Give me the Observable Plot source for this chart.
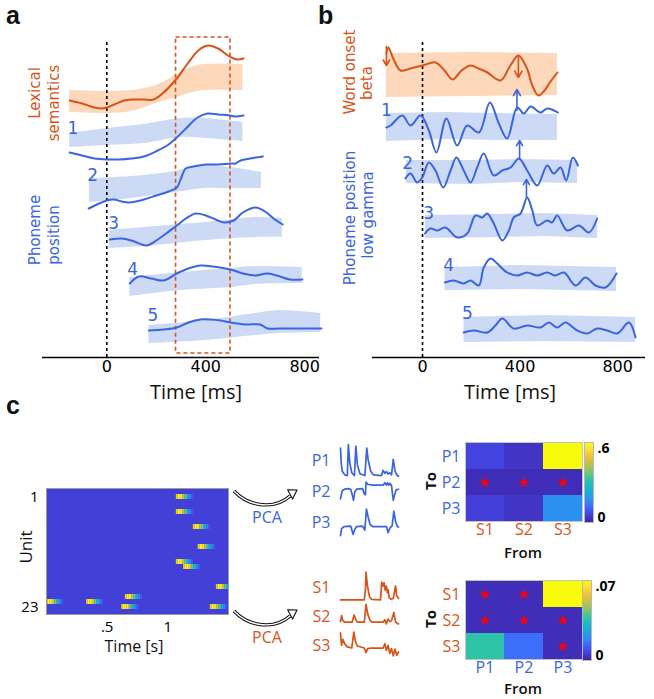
<!DOCTYPE html>
<html><head><meta charset="utf-8">
<script src="https://cdn.jsdelivr.net/npm/d3@7"></script>
<script src="https://cdn.jsdelivr.net/npm/@observablehq/plot@0.6"></script>
<style>
html,body{margin:0;padding:0;background:#fff;}
#fig{position:relative;width:654px;height:699px;overflow:hidden;background:#fff;}
.p{position:absolute;}
.p svg{overflow:visible;display:block;}
#overlay{position:absolute;left:0;top:0;pointer-events:none;}
</style></head><body>
<div id="fig"></div>
<script>
// ---------- colours ----------
const ORANGE = "#d95319";
const BLUE = "#3a64e0";
const ORANGE_BAND = "#fdd8bb";
const BLUE_BAND = "#cddaf6";
const PARULA = ["#3e26a8","#4541dd","#3f66fb","#2c8ef3","#1ca9de","#18bcc0","#38c69a","#82c96b","#c9bf48","#f5be38","#fbe02c","#f9fb0e"];
const HEAT_BG = "#4340d8";

// ---------- panel a data (time ms, amplitude a.u.) ----------
const timeTicks = [0, 400, 800];
const aLexLine = [[-150,257],[-100,254],[-50,250],[-20,249],[0,250],[30,253],[70,257],[100,258],[150,258],[190,258],[230,265],[283,279],[330,295],[370,307],[408,312],[450,309],[490,302],[513,299],[530,298],[553,299]];
const aLexBand = [[-150,245,267],[0,244,266],[100,246,267],[200,254,272],[280,260,282],[350,265,291],[400,267,293],[550,267,293]];
const aPh1Line = [[-150,205],[-100,202],[-50,199],[0,198],[50,198],[100,199],[150,201],[206,207],[250,213],[283,220],[320,229],[367,240],[408,244],[450,243],[497,242],[520,241],[553,242]];
const aPh1Band = [[-150,210,224],[0,212,229],[150,214,233],[300,220,239],[400,219,239],[550,216,235]];
const aPh2Line = [[-73,149],[-40,153],[0,157],[30,158],[60,156],[90,155],[150,158],[200,162],[250,166],[283,170],[300,179],[319,189],[350,191],[400,193],[450,193],[500,194],[520,194],[541,197],[580,199],[631,201]];
const aPh2Band = [[-70,155,179],[100,159,181],[250,164,185],[400,169,192],[500,169,190],[625,169,185]];
const aPh3Line = [[12,118],[60,119],[100,117],[161,112],[200,117],[240,124],[283,132],[320,139],[360,144],[400,142],[440,138],[473,135],[513,137],[550,145],[602,150],[640,146],[680,138],[711,133]];
const aPh3Band = [[10,109,127],[200,112,131],[400,117,135],[600,120,140],[710,120,139]];
const aPh4Line = [[93,74],[130,81],[180,79],[230,77],[283,84],[330,89],[380,92],[430,91],[500,88],[550,84],[600,82],[650,84],[700,81],[740,78],[791,78]];
const aPh4Band = [[93,61,80],[300,67,85],[500,70,89],[600,73,91],[790,74,90]];
const aPh5Line = [[170,27],[230,28],[283,30],[330,35],[380,38],[420,38],[460,37],[500,35],[560,33],[620,33],[650,29],[700,29],[800,29],[868,29]];
const aPh5Band = [[170,14,32],[400,17,37],[600,22,44],[700,24,47],[865,25,44]];
const aLabels = [{t:-137,v:229,label:"1"},{t:-57,v:182,label:"2"},{t:28,v:134,label:"3"},{t:105,v:88,label:"4"},{t:186,v:42,label:"5"}];
const aZeroLine = [{t:0, top:317}];
const aWindow = [{start:280, end:500, bottom:4, top:320}];

// ---------- panel b data ----------
const bWordLine = [[-148,304],[-140,310],[-120,299],[-90,287],[-50,289],[0,292],[53,295],[90,287],[123,278],[160,287],[197,292],[230,289],[266,285],[320,277],[360,292],[393,302],[428,289],[450,272],[475,262],[500,267],[522,275],[553,285]];
const bWordBand = [[-148,260,304],[200,261,305],[553,262,304]];
const bPh1Line = [[-148,230],[-131,232],[-83,242],[-49,232],[-8,242],[26,227],[57,205],[98,239],[142,212],[183,232],[231,225],[276,255],[313,234],[347,219],[388,250],[415,244],[443,251],[484,245],[511,249],[555,245]];
const bPh1Band = [[-148,216,244],[100,218,245],[300,217,244],[553,217,243]];
const bPh2Line = [[-70,179],[-49,184],[-22,175],[-1,180],[26,195],[53,187],[85,170],[115,187],[139,200],[169,187],[197,175],[224,190],[251,204],[292,182],[327,187],[361,190],[395,199],[429,187],[470,172],[511,192],[538,184],[566,190],[589,177],[616,200],[637,192]];
const bPh2Band = [[-66,174,197],[200,173,197],[400,175,198],[635,174,197]];
const bPh3Line = [[10,124],[33,129],[60,127],[94,130],[142,120],[183,124],[217,142],[245,140],[265,144],[292,134],[327,117],[354,127],[374,140],[402,144],[429,160],[450,147],[470,132],[511,137],[531,135],[552,142],[593,127],[641,132],[682,125],[716,139]];
const bPh3Band = [[12,119,142],[300,120,143],[500,121,144],[717,119,142]];
const bPh4Line = [[92,75],[128,77],[169,74],[197,77],[231,72],[251,90],[279,99],[306,94],[347,85],[388,82],[429,85],[470,82],[511,85],[545,82],[580,85],[627,72],[668,80],[709,72],[750,70],[795,84]];
const bPh4Band = [[92,67,90],[400,68,92],[795,66,90]];
const bPh5Line = [[169,25],[210,27],[265,25],[299,32],[327,39],[374,29],[429,32],[484,30],[518,35],[552,30],[586,35],[634,27],[675,24],[716,29],[757,27],[798,24],[846,35],[873,20]];
const bPh5Band = [[170,15,40],[500,16,42],[873,15,40]];
const bLabels = [{t:-148,v:247,label:"1"},{t:-61,v:194,label:"2"},{t:25,v:144,label:"3"},{t:107,v:92,label:"4"},{t:184,v:44,label:"5"}];
const bArrows = [{t:-148,from:311,to:292,kind:"word"},{t:393,from:302,to:280,kind:"word"},{t:387,from:247,to:268,kind:"phon"},{t:398,from:199,to:217,kind:"phon"},{t:426,from:160,to:178,kind:"phon"}];
const bZeroLine = [{t:0, top:317}];

// ---------- panel c data ----------
const unitIds = d3.range(1, 24);
const unitTicks = [1, 23];
const heatTimeTicks = [0.5, 1];
const unitEvents = [{unit:1,t:1.07},{unit:4,t:1.07},{unit:7,t:1.21},{unit:11,t:1.25},{unit:14,t:1.07},{unit:15,t:1.13},{unit:19,t:1.40},{unit:21,t:0.65},{unit:22,t:0.0},{unit:22,t:0.33},{unit:23,t:0.62},{unit:23,t:1.35}];
const blobProfile = [0.82, 1, 1, 0.9, 0.74, 0.6, 0.47, 0.35, 0.25, 0.16];
const blobStep = 0.014;

const pComponents = ["P1","P2","P3"];
const sComponents = ["S1","S2","S3"];
const spP1 = [[0,0.92],[0.012,0.44],[0.03,0.17],[0.076,0.05],[0.118,0.03],[0.135,1.03],[0.16,0.44],[0.194,0.12],[0.24,0.03],[0.265,0.98],[0.29,0.39],[0.335,0.09],[0.42,0.03],[0.453,0.92],[0.476,0.55],[0.52,0.17],[0.57,0.05],[0.706,0.03],[0.735,0.2],[0.765,0.1],[0.794,0.16],[0.82,0.08],[0.853,0.12],[0.88,0.05],[0.91,0.55],[0.94,0.17],[0.97,0.05],[1,0.01]];
const spP2 = [[0,0.28],[0.03,0.54],[0.07,0.59],[0.135,0.61],[0.176,0.59],[0.206,0.39],[0.224,0.23],[0.247,0.51],[0.276,0.59],[0.38,0.61],[0.41,0.44],[0.43,0.41],[0.44,0.82],[0.47,0.75],[0.56,0.72],[0.735,0.72],[0.765,0.8],[0.794,0.72],[0.81,0.8],[0.835,0.72],[0.853,0.78],[0.88,0.7],[0.91,0.23],[0.93,0.39],[0.96,0.57],[1,0.59]];
const spP3 = [[0,0.09],[0.018,0.32],[0.06,0.38],[0.176,0.4],[0.218,0.13],[0.247,0.3],[0.276,0.38],[0.38,0.4],[0.418,0.27],[0.435,0.65],[0.447,0.95],[0.476,0.7],[0.51,0.45],[0.56,0.38],[0.794,0.38],[0.82,0.19],[0.853,0.34],[0.89,0.41],[0.92,0.88],[0.95,0.54],[0.98,0.39],[1,0.37]];
const spS1 = [[0,0.09],[0.41,0.09],[0.43,0.45],[0.44,1.05],[0.465,0.57],[0.5,0.2],[0.535,0.11],[0.69,0.09],[0.71,0.7],[0.735,0.57],[0.75,0.68],[0.77,0.43],[0.79,0.57],[0.806,0.34],[0.82,0.45],[0.84,0.17],[0.87,0.11],[0.91,0.14],[0.95,0.57],[0.97,0.23],[1,0.14]];
const spS2 = [[0,0.34],[0.018,0.55],[0.04,0.375],[0.076,0.32],[0.2,0.32],[0.235,0.57],[0.265,0.41],[0.29,0.32],[0.41,0.32],[0.44,0.94],[0.47,0.6],[0.51,0.375],[0.55,0.32],[0.735,0.32],[0.765,0.41],[0.79,0.26],[0.82,0.43],[0.85,0.34],[0.88,0.375],[0.92,0.66],[0.95,0.32],[1,0.26]];
const spS3 = [[0,0.95],[0.018,0.52],[0.04,0.73],[0.07,0.58],[0.118,0.47],[0.194,0.43],[0.23,0.98],[0.253,0.69],[0.29,0.5],[0.41,0.43],[0.44,0.27],[0.47,0.41],[0.53,0.43],[0.735,0.43],[0.765,0.58],[0.79,0.35],[0.82,0.52],[0.85,0.24],[0.88,0.41],[0.91,0.16],[0.94,0.39],[0.97,0.18],[1,0.3]];

// matrices: rows = "To", columns = "From"
const topValues = [[0.06,0.03,0.6],[0.015,0.015,0.015],[0.05,0.03,0.17]];
const topStars = [["P2","S1"],["P2","S2"],["P2","S3"]];
const topColorTicks = [{v:0.6,label:".6"},{v:0,label:"0"}];
const botValues = [[0.002,0.002,0.07],[0.002,0.002,0.002],[0.036,0.014,0.002]];
const botStars = [["S1","P1"],["S1","P2"],["S2","P1"],["S2","P2"],["S2","P3"],["S3","P3"]];
const botColorTicks = [{v:0.07,label:".07"},{v:0,label:"0"}];

// ---------- helpers ----------
const lineRows = (pairs, s) => pairs.map(([t, v]) => ({t, v, s}));
const bandRows = (tr, s) => tr.map(([t, lo, hi]) => ({t, lo, hi, s}));
const parulaScale = (lo, hi) => ({type: "linear", domain: PARULA.map((_, i) => lo + (hi - lo) * i / (PARULA.length - 1)), range: PARULA, clamp: true});
const fig = document.getElementById("fig");
function place(node, left, top) {
  const d = document.createElement("div");
  d.className = "p"; d.style.left = left + "px"; d.style.top = top + "px";
  d.appendChild(node); fig.appendChild(d);
}
const baseStyle = {fontFamily: "DejaVu Sans", fontSize: "16px", color: "#000", background: "transparent", overflow: "visible"};

// ---------- panel a ----------
const aBlueBands = [...bandRows(aPh1Band,"1"),...bandRows(aPh2Band,"2"),...bandRows(aPh3Band,"3"),...bandRows(aPh4Band,"4"),...bandRows(aPh5Band,"5")];
const aBlueLines = [...lineRows(aPh1Line,"1"),...lineRows(aPh2Line,"2"),...lineRows(aPh3Line,"3"),...lineRows(aPh4Line,"4"),...lineRows(aPh5Line,"5")];
const plotA = Plot.plot({
  width: 325, height: 400, marginLeft: 42, marginRight: 6, marginTop: 37, marginBottom: 43,
  x: {domain: [-260, 860]},
  y: {domain: [0, 320]},
  style: baseStyle,
  marks: [
    Plot.areaY(bandRows(aLexBand,"lex"), {x: "t", y1: "lo", y2: "hi", fill: ORANGE_BAND, curve: "catmull-rom"}),
    Plot.areaY(aBlueBands, {x: "t", y1: "lo", y2: "hi", z: "s", fill: BLUE_BAND, curve: "catmull-rom"}),
    Plot.ruleX(aZeroLine, {x: "t", y1: 0, y2: "top", stroke: "#000", strokeWidth: 1.6, strokeDasharray: "3,3"}),
    Plot.rect(aWindow, {x1: "start", x2: "end", y1: "bottom", y2: "top", fill: "none", stroke: ORANGE, strokeWidth: 1.6, strokeDasharray: "4,3"}),
    Plot.line(lineRows(aLexLine,"lex"), {x: "t", y: "v", stroke: ORANGE, strokeWidth: 2, curve: "catmull-rom"}),
    Plot.line(aBlueLines, {x: "t", y: "v", z: "s", stroke: BLUE, strokeWidth: 2, curve: "catmull-rom"}),
    Plot.text(aLabels, {x: "t", y: "v", text: "label", fill: BLUE, fontSize: 17}),
    Plot.ruleY([0], {stroke: "#000", strokeWidth: 1.5}),
    Plot.axisX(timeTicks, {tickSize: 0, tickPadding: 3, label: null, fontSize: 16}),
    Plot.axisY([], {label: null})
  ]
});
place(plotA, 0, 0);

// ---------- panel b ----------
const bBlueBands = [...bandRows(bPh1Band,"1"),...bandRows(bPh2Band,"2"),...bandRows(bPh3Band,"3"),...bandRows(bPh4Band,"4"),...bandRows(bPh5Band,"5")];
const bBlueLines = [...lineRows(bPh1Line,"1"),...lineRows(bPh2Line,"2"),...lineRows(bPh3Line,"3"),...lineRows(bPh4Line,"4"),...lineRows(bPh5Line,"5")];
const plotB = Plot.plot({
  width: 327, height: 400, marginLeft: 45, marginRight: 9, marginTop: 37, marginBottom: 43,
  x: {domain: [-205, 914]},
  y: {domain: [0, 320]},
  style: baseStyle,
  marks: [
    Plot.areaY(bandRows(bWordBand,"word"), {x: "t", y1: "lo", y2: "hi", fill: ORANGE_BAND}),
    Plot.areaY(bBlueBands, {x: "t", y1: "lo", y2: "hi", z: "s", fill: BLUE_BAND}),
    Plot.ruleX(bZeroLine, {x: "t", y1: 0, y2: "top", stroke: "#000", strokeWidth: 1.6, strokeDasharray: "3,3"}),
    Plot.line(lineRows(bWordLine,"word"), {x: "t", y: "v", stroke: ORANGE, strokeWidth: 2, curve: "catmull-rom"}),
    Plot.line(bBlueLines, {x: "t", y: "v", z: "s", stroke: BLUE, strokeWidth: 2, curve: "catmull-rom"}),
    Plot.arrow(bArrows.filter(d => d.kind === "word"), {x1: "t", x2: "t", y1: "from", y2: "to", stroke: ORANGE, strokeWidth: 1.6, headLength: 7}),
    Plot.arrow(bArrows.filter(d => d.kind === "phon"), {x1: "t", x2: "t", y1: "from", y2: "to", stroke: BLUE, strokeWidth: 1.6, headLength: 7}),
    Plot.text(bLabels, {x: "t", y: "v", text: "label", fill: BLUE, fontSize: 17}),
    Plot.ruleY([0], {stroke: "#000", strokeWidth: 1.5}),
    Plot.axisX(timeTicks, {tickSize: 0, tickPadding: 3, label: null, fontSize: 16}),
    Plot.axisY([], {label: null})
  ]
});
place(plotB, 327, 0);

// ---------- panel c: unit raster ----------
const blobCells = unitEvents.flatMap(e => blobProfile.map((v, i) => ({unit: e.unit, x1: e.t + i * blobStep, x2: Math.min(1.5, e.t + (i + 1) * blobStep), v}))).filter(d => d.x1 < 1.5);
const heat = Plot.plot({
  width: 232, height: 184, marginLeft: 46, marginRight: 4, marginTop: 18, marginBottom: 40,
  x: {domain: [0, 1.5]},
  y: {type: "band", domain: unitIds, padding: 0},
  color: parulaScale(0, 1),
  style: {...baseStyle, fontFamily: "Open Sans", fontSize: "15px"},
  marks: [
    Plot.frame({fill: HEAT_BG}),
    Plot.barX(blobCells, {x1: "x1", x2: "x2", y: "unit", fill: "v"}),
    Plot.frame({stroke: "#9a9a9a", strokeWidth: 1}),
    Plot.axisX(heatTimeTicks, {tickSize: 0, tickPadding: 7, label: null, tickFormat: d => String(d).replace(/^0/, "")}),
    Plot.axisY(unitTicks, {tickSize: 0, tickPadding: 8, label: null})
  ]
});
place(heat, 0, 470);

// ---------- panel c: component traces ----------
const pRows = [...spP1.map(([t,a]) => ({t,a,c:"P1"})), ...spP2.map(([t,a]) => ({t,a,c:"P2"})), ...spP3.map(([t,a]) => ({t,a,c:"P3"}))];
const sRows = [...spS1.map(([t,a]) => ({t,a,c:"S1"})), ...spS2.map(([t,a]) => ({t,a,c:"S2"})), ...spS3.map(([t,a]) => ({t,a,c:"S3"}))];
function sparkPlot(rows, comps, color, height) {
  return Plot.plot({
    width: 105, height, marginLeft: 40, marginRight: 7, marginTop: 4, marginBottom: 2,
    x: {domain: [0, 1]}, y: {domain: [0, 1]},
    fy: {domain: comps, padding: 0},
    style: {...baseStyle, fontFamily: "Open Sans", fontSize: "16px"},
    marks: [
      Plot.axisFy({anchor: "left", tickSize: 0, tickPadding: 10, label: null, color}),
      Plot.axisX([], {label: null}),
      Plot.axisY([], {label: null}),
      Plot.line(rows, {x: "t", y: "a", fy: "c", stroke: color, strokeWidth: 1.7})
    ]
  });
}
place(sparkPlot(pRows, pComponents, BLUE, 100), 300, 440);
place(sparkPlot(sRows, sComponents, ORANGE, 94), 300, 568);

// ---------- panel c: matrices ----------
function matrixPlot(values, rowsLab, colsLab, stars, lo, hi, rowColor, colColor) {
  const cells = values.flatMap((row, i) => row.map((value, j) => ({to: rowsLab[i], from: colsLab[j], value})));
  const starRows = stars.map(([to, from]) => ({to, from}));
  return Plot.plot({
    width: 162, height: 113, marginLeft: 45, marginRight: 0, marginTop: 12, marginBottom: 22,
    x: {type: "band", domain: colsLab, padding: 0},
    y: {type: "band", domain: rowsLab, padding: 0},
    color: parulaScale(lo, hi),
    style: {...baseStyle, fontFamily: "Open Sans", fontSize: "16px"},
    marks: [
      Plot.cell(cells, {x: "from", y: "to", fill: "value", inset: 0}),
      Plot.frame({stroke: "#c4c4c4"}),
      Plot.dot(starRows, {x: "from", y: "to", symbol: "star", fill: "red", r: 3.4}),
      Plot.axisX({tickSize: 0, tickPadding: 2, label: null, color: colColor}),
      Plot.axisY({tickSize: 0, tickPadding: 5, label: null, color: rowColor})
    ]
  });
}
function colorbarPlot(lo, hi, ticks) {
  const n = 80;
  const steps = d3.range(n).map(i => ({y1: lo + (hi - lo) * i / n, y2: lo + (hi - lo) * (i + 1) / n, v: lo + (hi - lo) * (i + 0.5) / n}));
  return Plot.plot({
    width: 40, height: 80, marginLeft: 0, marginRight: 31, marginTop: 0, marginBottom: 0,
    x: {domain: [0, 1]}, y: {domain: [lo, hi]},
    color: parulaScale(lo, hi),
    style: {...baseStyle, fontFamily: "Open Sans", fontSize: "14px"},
    marks: [
      Plot.rect(steps, {x1: 0, x2: 1, y1: "y1", y2: "y2", fill: "v"}),
      Plot.frame({stroke: "#b8b8b8"}),
      Plot.text(ticks.slice(0, 1), {x: 1, y: "v", text: "label", textAnchor: "start", dx: 4, dy: 6, fontWeight: "bold"}),
      Plot.text(ticks.slice(1), {x: 1, y: "v", text: "label", textAnchor: "start", dx: 4, dy: -5, fontWeight: "bold"}),
      Plot.axisX([], {label: null}), Plot.axisY([], {label: null})
    ]
  });
}
place(matrixPlot(topValues, pComponents, sComponents, topStars, 0, 0.6, BLUE, ORANGE), 420, 430);
place(colorbarPlot(0, 0.6, topColorTicks), 584, 442);
place(matrixPlot(botValues, sComponents, pComponents, botStars, 0, 0.07, ORANGE, BLUE), 420, 568);
place(colorbarPlot(0, 0.07, botColorTicks), 582, 580);

// ---------- annotations ----------
const annotations = [
  {text: "a", x: 6, y: 24, size: 25, weight: "bold", family: "Liberation Sans", anchor: "start", base: "alphabetic"},
  {text: "b", x: 318, y: 24, size: 25, weight: "bold", family: "Liberation Sans", anchor: "start", base: "alphabetic"},
  {text: "c", x: 6, y: 414, size: 25, weight: "bold", family: "Liberation Sans", anchor: "start", base: "alphabetic"},
  {text: "Time [ms]", x: 196, y: 391, size: 20, family: "Open Sans"},
  {text: "Time [ms]", x: 510, y: 391, size: 20, family: "Open Sans"},
  {text: "Lexical", x: 35, y: 93, size: 15, color: ORANGE, rotate: true},
  {text: "semantics", x: 54, y: 103, size: 15, color: ORANGE, rotate: true},
  {text: "Phoneme", x: 35, y: 230, size: 15, color: BLUE, rotate: true},
  {text: "position", x: 54, y: 235, size: 15, color: BLUE, rotate: true},
  {text: "Word onset", x: 350, y: 72, size: 15, color: ORANGE, rotate: true},
  {text: "beta", x: 367, y: 83, size: 15, color: ORANGE, rotate: true},
  {text: "Phoneme position", x: 350, y: 218, size: 15, color: BLUE, rotate: true},
  {text: "low gamma", x: 368, y: 215, size: 15, color: BLUE, rotate: true},
  {text: "Unit", x: 25, y: 547, size: 17, family: "Open Sans", rotate: true},
  {text: "Time [s]", x: 134, y: 646, size: 16, family: "Open Sans"},
  {text: "PCA", x: 267, y: 517, size: 16, family: "Open Sans", color: BLUE},
  {text: "PCA", x: 267, y: 637, size: 16, family: "Open Sans", color: ORANGE},
  {text: "To", x: 430, y: 481, size: 15, family: "Open Sans", weight: "bold", rotate: true},
  {text: "To", x: 430, y: 619, size: 15, family: "Open Sans", weight: "bold", rotate: true},
  {text: "From", x: 523, y: 552, size: 15, family: "Open Sans", weight: 600},
  {text: "From", x: 523, y: 688, size: 15, family: "Open Sans", weight: 600}
];
const overlay = d3.select(fig).append("svg").attr("id", "overlay").attr("width", 654).attr("height", 699);
// hollow swoosh arrows (PCA)
[0, 120].forEach(dy => {
  const g = overlay.append("g").attr("transform", `translate(0,${dy})`);
  const d = "M234,491 C250,508 276,509 290,496";
  g.append("path").attr("d", d).attr("fill", "none").attr("stroke", "#111").attr("stroke-width", 3.4);
  g.append("path").attr("d", d).attr("fill", "none").attr("stroke", "#fff").attr("stroke-width", 1.3);
  g.append("path").attr("d", "M297,490 L292.6,499 L287.6,489.8 Z").attr("fill", "#fff").attr("stroke", "#111").attr("stroke-width", 1.1).attr("stroke-linejoin", "round");
});
annotations.forEach(a => {
  const t = overlay.append("text")
    .attr("x", a.x).attr("y", a.y)
    .attr("text-anchor", a.anchor || "middle")
    .attr("dominant-baseline", a.base || "central")
    .attr("font-family", a.family || "DejaVu Sans")
    .attr("font-size", a.size)
    .attr("font-weight", a.weight || "normal")
    .attr("fill", a.color || "#111")
    .text(a.text);
  if (a.rotate) t.attr("transform", `rotate(-90 ${a.x} ${a.y})`);
});
</script>
</body></html>
